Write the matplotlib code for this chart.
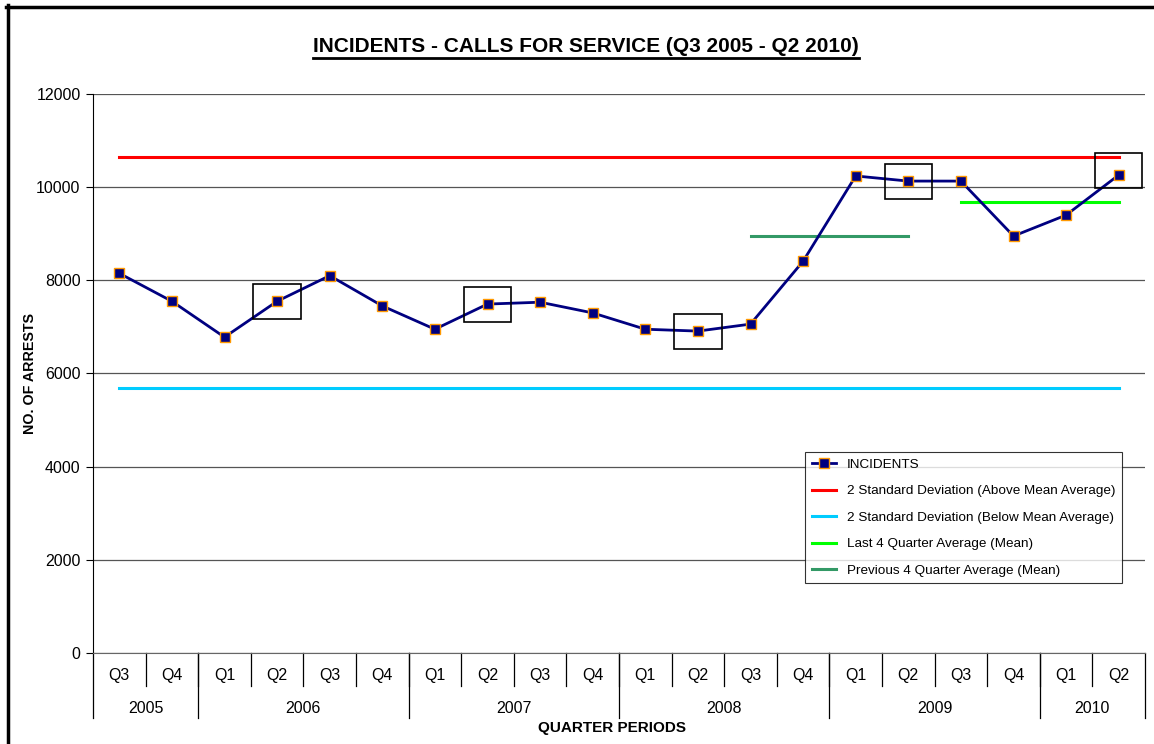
import numpy as np
import matplotlib
matplotlib.use('Agg')
import matplotlib.pyplot as plt
from matplotlib.patches import Rectangle
from matplotlib.lines import Line2D
import matplotlib.transforms as mtransforms

plt.rcParams['font.family'] = ['Liberation Sans', 'DejaVu Sans']

# data
quarters = ['Q3', 'Q4', 'Q1', 'Q2', 'Q3', 'Q4', 'Q1', 'Q2', 'Q3', 'Q4',
            'Q1', 'Q2', 'Q3', 'Q4', 'Q1', 'Q2', 'Q3', 'Q4', 'Q1', 'Q2']
years = ['2005', '2006', '2007', '2008', '2009', '2010']
year_counts = [2, 4, 4, 4, 4, 2]
incidents = [8150, 7550, 6780, 7550, 8100, 7450, 6950, 7490, 7530, 7300,
             6950, 6910, 7060, 8410, 10240, 10130, 10130, 8950, 9400, 10260]
upper_2sd = 10640
lower_2sd = 5690
last4_mean = 9680
prev4_mean = 8950
last4_idx = [16, 19]
prev4_idx = [12, 15]
highlight_idx = [3, 7, 11, 15, 19]
box_shift = [0, 0, 0, 0, 90]

x = np.arange(len(quarters))

fig = plt.figure(figsize=(11.54, 7.44), dpi=100)
ax = fig.add_axes([0.0806, 0.1223, 0.9116, 0.7514])

ax.set_xlim(-0.5, len(quarters) - 0.5)
ax.set_ylim(0, 12000)
ax.set_yticks(np.arange(0, 12001, 2000))
ax.yaxis.grid(True, color='#555555', lw=0.9)
ax.set_axisbelow(True)
for s in ['top', 'right']:
    ax.spines[s].set_visible(False)
ax.spines['left'].set_color('black')
ax.spines['bottom'].set_color('#666666')
ax.tick_params(axis='y', direction='out', length=5, labelsize=11.5, pad=4)
ax.set_xticks([])

# reference lines
ax.plot([x[0], x[-1]], [upper_2sd, upper_2sd], color='#FF0000', lw=2.2,
        label='2 Standard Deviation (Above Mean Average)')
ax.plot([x[0], x[-1]], [lower_2sd, lower_2sd], color='#00CCFF', lw=2.2,
        label='2 Standard Deviation (Below Mean Average)')
ax.plot([x[last4_idx[0]], x[last4_idx[1]]], [last4_mean, last4_mean], color='#00FF00', lw=2.2,
        label='Last 4 Quarter Average (Mean)')
ax.plot([x[prev4_idx[0]], x[prev4_idx[1]]], [prev4_mean, prev4_mean], color='#339966', lw=2.2,
        label='Previous 4 Quarter Average (Mean)')

ln, = ax.plot(x, incidents, color='#000080', lw=2.0, marker='s', markersize=6.5,
              markerfacecolor='#000080', markeredgecolor='#FF9900', markeredgewidth=1.0,
              label='INCIDENTS', zorder=5)

# highlight boxes
for i, sh in zip(highlight_idx, box_shift):
    ax.add_patch(Rectangle((x[i] - 0.45, incidents[i] - 375 + sh), 0.9, 750,
                           fill=False, ec='black', lw=1.2, zorder=6))

# legend
handles, labels = ax.get_legend_handles_labels()
order = [4, 0, 1, 2, 3]
leg = ax.legend([handles[k] for k in order], [labels[k] for k in order],
                loc='upper left', bbox_to_anchor=(0.677, 0.36), borderaxespad=0,
                fontsize=9.7, frameon=True, fancybox=False, edgecolor='black',
                handlelength=1.8, labelspacing=1.04, borderpad=0.5)
leg.get_frame().set_linewidth(0.8)

# two-level category axis
trans = mtransforms.blended_transform_factory(ax.transData, ax.transAxes)
for k in range(1, len(quarters)):
    ax.plot([k - 0.5, k - 0.5], [0, -0.059], transform=trans, color='black', lw=0.9, clip_on=False)
for i, q in enumerate(quarters):
    ax.text(x[i], -0.041, q, transform=trans, ha='center', va='center', fontsize=11.5)
edges = np.concatenate([[0], np.cumsum(year_counts)]) - 0.5
for e in edges:
    ax.plot([e, e], [0, -0.116], transform=trans, color='black', lw=0.9, clip_on=False)
for j, yr in enumerate(years):
    ax.text((edges[j] + edges[j + 1]) / 2, -0.1, yr, transform=trans,
            ha='center', va='center', fontsize=11.5)

fig.text(0.530, 0.0215, 'QUARTER PERIODS', ha='center', va='center',
         fontsize=11, fontweight='bold')
fig.text(0.026, 0.498, 'NO. OF ARRESTS', ha='center', va='center',
         rotation=90, fontsize=10.3, fontweight='bold')

# underlined title
title = fig.text(0.508, 0.937, 'INCIDENTS - CALLS FOR SERVICE (Q3 2005 - Q2 2010)',
                 ha='center', va='center', fontsize=15, fontweight='bold')
fig.canvas.draw()
bb = title.get_window_extent().transformed(fig.transFigure.inverted())
fig.add_artist(Line2D([bb.x0, bb.x1], [bb.y0 - 0.002, bb.y0 - 0.002],
                      transform=fig.transFigure, color='black', lw=2.0))

# thick outer frame (top and left)
fig.add_artist(Line2D([0.005, 1.0], [0.991, 0.991], transform=fig.transFigure,
                      color='black', lw=2.5))
fig.add_artist(Line2D([0.0065, 0.0065], [0.0, 0.993], transform=fig.transFigure,
                      color='black', lw=2.5))

fig.savefig('out.png', dpi=100)
